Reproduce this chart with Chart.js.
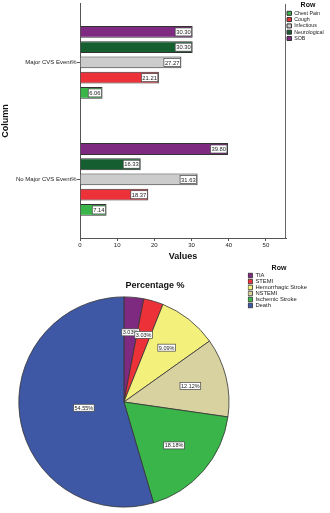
<!DOCTYPE html>
<html>
<head>
<meta charset="utf-8">
<script src="https://cdn.jsdelivr.net/npm/chart.js@4.4.1/dist/chart.umd.min.js"></script>
<style>
  html, body { margin: 0; padding: 0; background: #fff; }
  body { width: 330px; height: 513px; overflow: hidden; }
  .box { position: relative; width: 330px; }
  #bar-box { height: 265px; }
  #pie-box { height: 248px; }
</style>
</head>
<body>
<div class="box" id="bar-box"><canvas id="bar-chart"></canvas></div>
<div class="box" id="pie-box"><canvas id="pie-chart"></canvas></div>
<script>
// Dados do gráfico de barras
const grupos = ['Major CVS Event%', 'No Major CVS Event%'];
const sob = [30.30, 39.80];
const neurological = [30.30, 16.33];
const infectious = [27.27, 31.63];
const cough = [21.21, 18.37];
const chestPain = [6.06, 7.14];
const xTicks = [0, 10, 20, 30, 40, 50];

// Dados da pizza
const desfechos = ['TIA', 'STEMI', 'Hemorrhagic Stroke', 'NSTEMI', 'Ischemic Stroke', 'Death'];
const percentuais = [3.03, 3.03, 9.09, 12.12, 18.18, 54.55];

const fonte = '"Liberation Sans", Arial, sans-serif';
const coresPizza = ['#7e2a80', '#ec3238', '#f4f07c', '#d7d2a0', '#3ab54a', '#3e58a6'];

// caixinha branca com o valor
function caixa(ctx, txt, cx, cy, h) {
    const w = ctx.measureText(txt).width + 2;
    ctx.fillStyle = '#fff';
    ctx.fillRect(cx - w / 2, cy - h / 2, w, h);
    ctx.strokeStyle = '#444';
    ctx.lineWidth = 0.7;
    ctx.strokeRect(cx - w / 2, cy - h / 2, w, h);
    ctx.fillStyle = '#222';
    ctx.textAlign = 'center';
    ctx.textBaseline = 'middle';
    ctx.fillText(txt, cx, cy + 0.5);
    return w;
}

const rotulosBarras = {
    id: 'rotulosBarras',
    afterDatasetsDraw(chart) {
        const ctx = chart.ctx;
        ctx.save();
        ctx.font = '5.8px ' + fonte;
        chart.data.datasets.forEach((ds, i) => {
            chart.getDatasetMeta(i).data.forEach((bar, j) => {
                const txt = ds.data[j].toFixed(2);
                const w = ctx.measureText(txt).width + 2;
                caixa(ctx, txt, bar.x - 1 - w / 2, bar.y, 8);
            });
        });
        ctx.restore();
    }
};

const moldura = {
    id: 'moldura',
    afterDraw(chart) {
        const { ctx, chartArea: a } = chart;
        ctx.save();
        ctx.strokeStyle = '#666';
        ctx.lineWidth = 1;
        ctx.beginPath();
        ctx.moveTo(a.right - 0.5, a.top);
        ctx.lineTo(a.right - 0.5, a.bottom);
        ctx.stroke();
        ctx.restore();
    }
};

const rotulosPizza = {
    id: 'rotulosPizza',
    afterDatasetsDraw(chart) {
        const ctx = chart.ctx;
        ctx.save();
        ctx.font = '5.5px ' + fonte;
        chart.getDatasetMeta(0).data.forEach((arc, i) => {
            const ang = arc.endAngle - arc.startAngle;
            const meio = (arc.startAngle + arc.endAngle) / 2;
            // centroide do setor
            const d = 4 * arc.outerRadius * Math.sin(ang / 2) / (3 * ang);
            caixa(ctx, percentuais[i].toFixed(2) + '%', arc.x + Math.cos(meio) * d, arc.y + Math.sin(meio) * d, 7);
        });
        ctx.restore();
    }
};

const serie = (label, data, cor) => ({
    label: label,
    data: data,
    backgroundColor: cor,
    borderColor: '#333',
    borderWidth: 1,
    categoryPercentage: 0.651,
    barPercentage: 0.774
});

const configBarras = {
    type: 'bar',
    data: {
        labels: grupos,
        datasets: [
            serie('SOB', sob, '#7e2a80'),
            serie('Neurological', neurological, '#155e30'),
            serie('Infectious', infectious, '#cccccc'),
            serie('Cough', cough, '#ec3238'),
            serie('Chest Pain', chestPain, '#3ab54a')
        ]
    },
    options: {
        indexAxis: 'y',
        responsive: true,
        maintainAspectRatio: false,
        animation: false,
        layout: { padding: 0 },
        plugins: {
            tooltip: { enabled: false },
            legend: {
                position: 'right',
                align: 'start',
                reverse: true,
                maxWidth: 44,
                title: {
                    display: true,
                    text: 'Row',
                    color: '#111',
                    font: { size: 7, weight: 'bold', family: fonte, lineHeight: 1 },
                    padding: { top: 1.8, bottom: 0.85 }
                },
                labels: {
                    boxWidth: 4.5,
                    boxHeight: 4,
                    padding: 1,
                    color: '#222',
                    font: { size: 5.3, family: fonte }
                }
            }
        },
        scales: {
            x: {
                min: 0,
                max: 55.4,
                afterBuildTicks: s => { s.ticks = xTicks.map(v => ({ value: v })); },
                afterFit: s => { s.height = 27; },
                grid: { drawOnChartArea: false, tickLength: 3, color: '#555' },
                border: { color: '#555' },
                ticks: { font: { size: 6, family: fonte }, color: '#222', padding: 1.1, maxRotation: 0 },
                title: {
                    display: true,
                    text: 'Values',
                    color: '#111',
                    font: { size: 9, weight: 'bold', family: fonte },
                    padding: { top: 0, bottom: 2.6 }
                }
            },
            y: {
                offset: true,
                afterFit: s => { s.width = 80; },
                grid: { drawOnChartArea: false, offset: false, tickLength: 3, color: '#555' },
                border: { color: '#555' },
                ticks: { font: { size: 6, family: fonte }, color: '#222', padding: 0.3 },
                title: {
                    display: true,
                    text: 'Column',
                    color: '#111',
                    font: { size: 9, weight: 'bold', family: fonte },
                    padding: { top: 0.4, bottom: 0 }
                }
            }
        }
    },
    plugins: [rotulosBarras, moldura]
};

const configPizza = {
    type: 'pie',
    data: {
        labels: desfechos,
        datasets: [{
            data: percentuais,
            backgroundColor: coresPizza,
            borderColor: '#333',
            borderWidth: 0.8
        }]
    },
    options: {
        responsive: true,
        maintainAspectRatio: false,
        animation: false,
        layout: { padding: { left: 0, right: 19.8, top: 0, bottom: 5.5 } },
        plugins: {
            tooltip: { enabled: false },
            title: {
                display: true,
                text: 'Percentage %',
                color: '#111',
                font: { size: 9, weight: 'bold', family: fonte },
                padding: { top: 15.6, bottom: 5.1 }
            },
            legend: {
                position: 'right',
                align: 'start',
                maxWidth: 62.4,
                title: {
                    display: true,
                    text: 'Row',
                    color: '#111',
                    font: { size: 7, weight: 'bold', family: fonte, lineHeight: 1 },
                    padding: { top: 0, bottom: 0.4 }
                },
                labels: {
                    boxWidth: 4.5,
                    boxHeight: 4.5,
                    padding: 0.2,
                    color: '#222',
                    font: { size: 5.8, family: fonte }
                }
            }
        }
    },
    plugins: [rotulosPizza]
};

// Renderizar os gráficos
window.onload = function () {
    new Chart(document.getElementById('bar-chart').getContext('2d'), configBarras);
    new Chart(document.getElementById('pie-chart').getContext('2d'), configPizza);
};
</script>
</body>
</html>
